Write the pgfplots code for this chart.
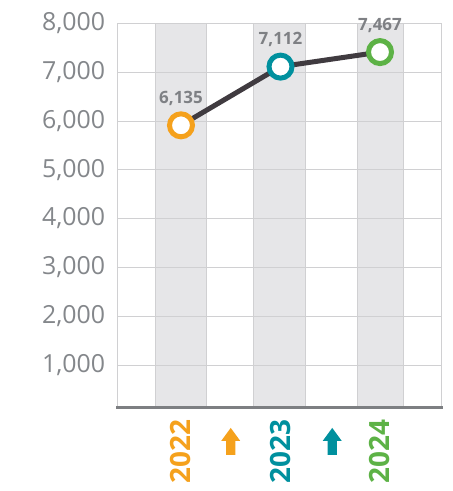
\documentclass[border=0pt]{standalone}
\usepackage{fontspec}
\setmainfont{Open Sans}
\usepackage{pgfplots}
\pgfplotsset{compat=1.18}
\definecolor{gridc}{HTML}{D0D0D2}
\definecolor{bandc}{HTML}{E6E6E8}
\definecolor{labc}{HTML}{84878B}
\definecolor{numc}{HTML}{7E8084}
\definecolor{linec}{HTML}{403B40}
\definecolor{axc}{HTML}{7D7F82}
\definecolor{c22}{HTML}{F5A11C}
\definecolor{c23}{HTML}{00909E}
\definecolor{c24}{HTML}{5DB246}

% up arrow between years
\newcommand{\uparr}[1]{\tikz{\path (0,0) rectangle (0,35bp);
  \fill[#1] (-4.7bp,0) -- (4.7bp,0) -- (4.7bp,14bp) -- (9.5bp,14bp) -- (0,27bp)
    -- (-9.5bp,14bp) -- (-4.7bp,14bp) -- cycle;}}
\newcommand{\yr}[2]{\rotatebox{90}{\textcolor{#1}{#2}}}

\begin{document}
\begin{tikzpicture}
\begin{axis}[
    scale only axis,
    width=324.4bp, height=384.4bp,
    xmin=-0.64, xmax=2.62,
    ymin=125, ymax=8000,
    clip=false,
    set layers=standard,
    axis line style={draw=gridc, line width=0.8bp},
    major tick length=0,
    ytick={1000,2000,3000,4000,5000,6000,7000,8000},
    yticklabels={{1,000},{2,000},{3,000},{4,000},{5,000},{6,000},{7,000},{8,000}},
    yticklabel style={font=\fontsize{25}{30}\selectfont, text=labc, inner sep=0pt, xshift=-12bp},
    ymajorgrids, grid style={draw=gridc, line width=0.8bp},
    xtick={0,1,2},
    xticklabels={\yr{c22}{2022},\yr{c23}{2023},\yr{c24}{2024}},
    xticklabel style={font=\bfseries\fontsize{28}{30}\selectfont, anchor=north, inner sep=0pt},
    xticklabel shift=12bp,
    extra x ticks={0.5,1.52},
    extra x tick labels={\uparr{c22},\uparr{c23}},
    extra x tick style={grid=none},
]
% shaded year bands
\addplot[on layer=axis background, fill=bandc, draw=gridc, line width=0.8bp]
  coordinates {(-0.26,125)(-0.26,8000)(0.26,8000)(0.26,125)} -- cycle;
\addplot[on layer=axis background, fill=bandc, draw=gridc, line width=0.8bp]
  coordinates {(0.73,125)(0.73,8000)(1.25,8000)(1.25,125)} -- cycle;
\addplot[on layer=axis background, fill=bandc, draw=gridc, line width=0.8bp]
  coordinates {(1.77,125)(1.77,8000)(2.24,8000)(2.24,125)} -- cycle;

% line
\addplot[linec, line width=5bp, no marks] coordinates {(0,5910)(1,7112)(2,7410)};

% markers with value labels
\pgfplotsset{every node near coord/.append style={anchor=base, inner sep=0pt, yshift=22bp,
    font=\bfseries\fontsize{17}{20}\selectfont, text=numc}}
\addplot[only marks, mark=*, mark size=11.5bp, mark options={draw=c22, fill=white, line width=5bp},
  nodes near coords={6{,}135}] coordinates {(0,5910)};
\addplot[only marks, mark=*, mark size=11.5bp, mark options={draw=c23, fill=white, line width=5bp},
  nodes near coords={7{,}112}] coordinates {(1,7112)};
\addplot[only marks, mark=*, mark size=11.5bp, mark options={draw=c24, fill=white, line width=5bp},
  nodes near coords={7{,}467}] coordinates {(2,7410)};

\draw[axc, line width=2.6bp] ([xshift=-1bp]rel axis cs:0,0) -- ([xshift=1bp]rel axis cs:1,0);
\coordinate (sw) at (rel axis cs:0,0);
\coordinate (ne) at (rel axis cs:1,1);
\end{axis}
\pgfresetboundingbox
\path ([shift={(-117.3bp,-83.3bp)}]sw) rectangle ([shift={(11.3bp,23.3bp)}]ne);
\end{tikzpicture}
\end{document}
